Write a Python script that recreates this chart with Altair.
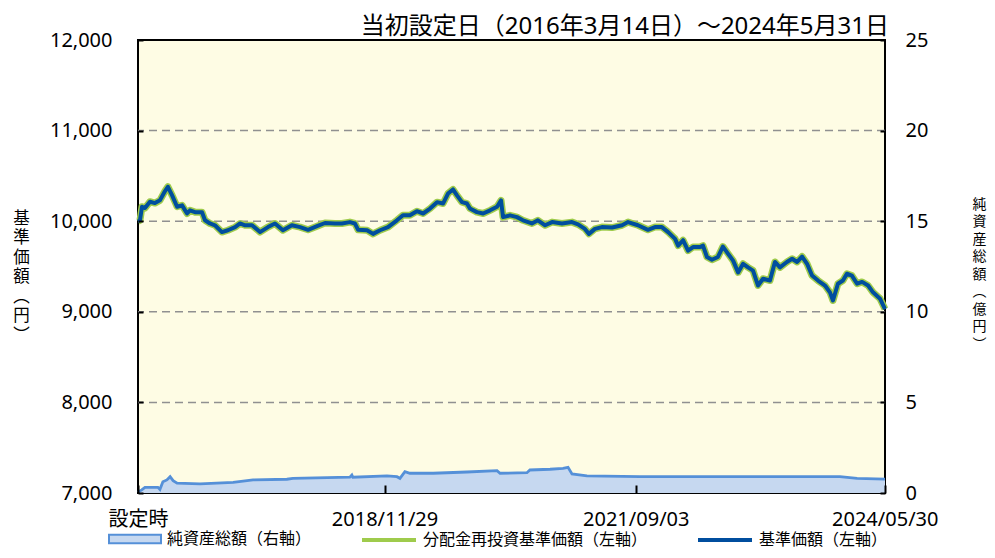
import altair as alt
import pandas as pd

# ---------------- data ----------------
NAV_DATES = [
    "2016-03-14", "2016-03-22", "2016-03-30", "2016-04-11", "2016-05-01", "2016-05-21",
    "2016-06-10", "2016-06-30", "2016-07-12", "2016-07-29", "2016-08-18", "2016-09-07",
    "2016-09-27", "2016-10-09", "2016-10-29", "2016-11-26", "2016-12-08", "2016-12-28",
    "2017-01-17", "2017-02-14", "2017-03-10", "2017-04-08", "2017-04-28", "2017-05-18",
    "2017-06-15", "2017-07-17", "2017-08-18", "2017-09-15", "2017-10-17", "2017-11-22",
    "2017-12-25", "2018-01-26", "2018-03-03", "2018-04-04", "2018-05-14", "2018-06-11",
    "2018-07-13", "2018-08-02", "2018-08-15", "2018-09-20", "2018-10-14", "2018-11-11",
    "2018-12-13", "2019-01-18", "2019-02-11", "2019-03-11", "2019-04-08", "2019-05-03",
    "2019-05-31", "2019-06-28", "2019-07-22", "2019-08-11", "2019-08-31", "2019-09-16",
    "2019-10-06", "2019-10-26", "2019-11-07", "2019-12-05", "2019-12-30", "2020-01-27",
    "2020-02-24", "2020-03-11", "2020-03-19", "2020-04-16", "2020-05-14", "2020-06-07",
    "2020-07-13", "2020-08-06", "2020-09-04", "2020-10-02", "2020-11-11", "2020-12-21",
    "2021-01-14", "2021-02-11", "2021-02-27", "2021-03-23", "2021-04-20", "2021-05-31",
    "2021-07-10", "2021-08-03", "2021-09-12", "2021-10-22", "2021-11-19", "2021-12-17",
    "2022-01-11", "2022-02-08", "2022-02-20", "2022-03-12", "2022-04-01", "2022-04-21",
    "2022-05-19", "2022-05-31", "2022-06-16", "2022-07-06", "2022-07-30", "2022-08-19",
    "2022-09-09", "2022-09-29", "2022-10-19", "2022-11-08", "2022-11-28", "2022-12-18",
    "2023-01-07", "2023-01-27", "2023-02-24", "2023-03-16", "2023-04-05", "2023-05-03",
    "2023-05-24", "2023-06-13", "2023-07-03", "2023-07-23", "2023-08-12", "2023-09-05",
    "2023-10-03", "2023-10-23", "2023-11-04", "2023-11-24", "2023-12-14", "2023-12-30",
    "2024-01-19", "2024-02-09", "2024-02-29", "2024-03-24", "2024-04-13", "2024-05-11",
    "2024-05-31",
]
NAV_VALUES = [
    10000, 10010, 10160, 10145, 10215, 10200,
    10230, 10330, 10380, 10285, 10160, 10175,
    10085, 10120, 10100, 10100, 10010, 9975,
    9955, 9880, 9900, 9935, 9975, 9955,
    9955, 9880, 9935, 9975, 9900, 9955,
    9935, 9905, 9945, 9980, 9975, 9975,
    9990, 9975, 9905, 9900, 9860, 9900,
    9935, 10010, 10065, 10065, 10110, 10085,
    10140, 10210, 10195, 10305, 10350, 10285,
    10210, 10195, 10140, 10100, 10085, 10120,
    10160, 10230, 10045, 10065, 10045, 10010,
    9975, 10010, 9955, 9990, 9975, 9990,
    9965, 9915, 9860, 9915, 9935, 9930,
    9955, 9990, 9955, 9905, 9935, 9935,
    9880, 9805, 9730, 9790, 9675, 9715,
    9715, 9730, 9605, 9575, 9605, 9720,
    9640, 9565, 9435, 9530, 9490, 9455,
    9290, 9365, 9345, 9550, 9490, 9550,
    9585, 9550, 9610, 9530, 9400, 9345,
    9290, 9215, 9125, 9310, 9345, 9420,
    9400, 9310, 9330, 9290, 9215, 9145,
    9030,
]

AUM_DATES = [
    "2016-03-14", "2016-03-29", "2016-04-11", "2016-06-02", "2016-06-10", "2016-06-22",
    "2016-07-08", "2016-07-21", "2016-08-02", "2016-08-18", "2016-11-18", "2017-03-31",
    "2017-06-19", "2017-11-02", "2017-11-26", "2018-07-13", "2018-07-21", "2018-07-25",
    "2018-12-09", "2019-01-18", "2019-01-30", "2019-02-19", "2019-03-11", "2019-06-12",
    "2019-10-26", "2020-02-24", "2020-03-07", "2020-06-23", "2020-07-05", "2020-09-24",
    "2020-11-15", "2020-12-05", "2020-12-21", "2021-02-19", "2021-09-20", "2022-10-27",
    "2023-12-02", "2024-02-09", "2024-05-31",
]
AUM_VALUES = [
    0.05, 0.17, 0.31, 0.31, 0.20, 0.62,
    0.72, 0.90, 0.68, 0.54, 0.50, 0.59,
    0.72, 0.76, 0.81, 0.87, 0.99, 0.87,
    0.94, 0.90, 0.81, 1.18, 1.09, 1.09,
    1.16, 1.23, 1.09, 1.12, 1.27, 1.31,
    1.36, 1.42, 1.05, 0.94, 0.90, 0.90,
    0.90, 0.81, 0.77,
]

GRID_LEVELS = [8000, 9000, 10000, 11000]
LEFT_TICKS = [7000, 8000, 9000, 10000, 11000, 12000]
RIGHT_TICKS = [0, 5, 10, 15, 20, 25]
X_TICK_DATES = [(2016, 3, 14), (2018, 11, 29), (2021, 9, 3), (2024, 5, 30)]
X_DOMAIN = [(2016, 3, 14), (2024, 5, 31)]

TITLE = "当初設定日（2016年3月14日）～2024年5月31日"
LEFT_TITLE = ["基", "準", "価", "額", "︵", "円", "︶"]
RIGHT_TITLE = ["純", "資", "産", "総", "額", "︵", "億", "円", "︶"]
AUM_LABEL = "純資産総額（右軸）"
REINV_LABEL = "分配金再投資基準価額（左軸）"
NAV_LABEL = "基準価額（左軸）"

# ---------------- styling ----------------
NUM_FONT = "Noto Sans, Noto Sans CJK JP"
JP_FONT = "Noto Sans CJK JP"
GREEN = "#9fcb4c"
BLUE = "#004e9e"
AREA_FILL = "#c6d8f0"
AREA_LINE = "#5590d8"
BG = "#fefce4"

reinv_df = pd.DataFrame({"date": pd.to_datetime(NAV_DATES), "nav": NAV_VALUES, "series": REINV_LABEL})
nav_df = pd.DataFrame({"date": pd.to_datetime(NAV_DATES), "nav": NAV_VALUES, "series": NAV_LABEL})
aum_df = pd.DataFrame({"date": pd.to_datetime(AUM_DATES), "aum": AUM_VALUES, "series": AUM_LABEL})
grid_df = pd.DataFrame({"level": GRID_LEVELS})

x_scale = alt.Scale(
    domain=[alt.DateTime(year=y, month=m, date=d) for y, m, d in X_DOMAIN], nice=False
)
x_axis = alt.Axis(
    values=[alt.DateTime(year=y, month=m, date=d) for y, m, d in X_TICK_DATES],
    labelExpr="timeFormat(datum.value, '%Y/%m/%d') === '2016/03/14' ? '設定時' : timeFormat(datum.value, '%Y/%m/%d')",
    title=None, domain=False, grid=False, ticks=True, tickSize=8, tickWidth=2,
    tickColor="black", offset=-8, labelPadding=16, labelFlush=False,
    labelOverlap=False, labelFont=NUM_FONT, labelFontSize=20, labelColor="black",
    labelAngle=0, zindex=2,
)
X = alt.X("date:T", scale=x_scale, axis=x_axis)

left_scale = alt.Scale(domain=[7000, 12000], nice=False, zero=False)
left_axis = alt.Axis(
    orient="left", values=LEFT_TICKS, labelExpr="format(datum.value, ',.0f')",
    grid=False, domain=False, zindex=2,
    tickSize=5, tickWidth=2, tickColor="black", offset=-5, labelPadding=26,
    labelFont=NUM_FONT, labelFontSize=20, labelColor="black",
    title=LEFT_TITLE, titleAngle=0, titleX=-122, titleY=170, titleAlign="center",
    titleBaseline="top", titleLineHeight=19.5, titleFont=JP_FONT, titleFontSize=16.5,
    titleFontWeight="normal", titleColor="black",
)
right_scale = alt.Scale(domain=[0, 25], nice=False)
right_axis = alt.Axis(
    orient="right", values=RIGHT_TICKS, labelExpr="format(datum.value, 'd')",
    grid=False, domain=False, zindex=2,
    tickSize=5, tickWidth=2, tickColor="black", offset=-5, labelPadding=20,
    labelFont=NUM_FONT, labelFontSize=20, labelColor="black",
    title=RIGHT_TITLE, titleAngle=0, titleX=99, titleY=157, titleAlign="center",
    titleBaseline="top", titleLineHeight=17.5, titleFont=JP_FONT, titleFontSize=14,
    titleFontWeight="normal", titleColor="black",
)

area_legend = alt.Legend(
    title=None, orient="none", legendX=-30, legendY=472,
    symbolType="M-1,-0.16L1,-0.16L1,0.16L-1,0.16Z", symbolSize=2704,
    symbolStrokeColor=AREA_LINE, symbolStrokeWidth=2, symbolOpacity=1,
    labelFont=JP_FONT, labelFontSize=16, labelColor="black", labelOffset=5,
    labelLimit=400,
)
line_legend = alt.Legend(
    title=None, orient="none", direction="horizontal", legendX=222, legendY=471,
    symbolType="stroke", symbolSize=2916, symbolStrokeWidth=4,
    labelFont=JP_FONT, labelFontSize=16, labelColor="black", labelOffset=5,
    labelLimit=400, columnPadding=42,
)
stroke_scale = alt.Scale(domain=[REINV_LABEL, NAV_LABEL], range=[GREEN, BLUE])

area = alt.Chart(aum_df).mark_area(opacity=1).encode(
    x=X,
    y=alt.Y("aum:Q", scale=right_scale, axis=right_axis),
    fill=alt.Fill("series:N", scale=alt.Scale(domain=[AUM_LABEL], range=[AREA_FILL]),
                  legend=area_legend),
)
area_line = alt.Chart(aum_df).mark_line(color=AREA_LINE, strokeWidth=2.8).encode(
    x=X, y=alt.Y("aum:Q", scale=right_scale, axis=right_axis)
)

grid = alt.Chart(grid_df).mark_rule(color="#909090", strokeWidth=1.5, strokeDash=[8, 5]).encode(
    y=alt.Y("level:Q", scale=left_scale, axis=left_axis)
)
green = alt.Chart(reinv_df).mark_line(strokeWidth=7, strokeJoin="round").encode(
    x=X, y=alt.Y("nav:Q", scale=left_scale, axis=left_axis),
    stroke=alt.Stroke("series:N", scale=stroke_scale, legend=line_legend),
)
blue = alt.Chart(nav_df).mark_line(strokeWidth=4, strokeJoin="round").encode(
    x=X, y=alt.Y("nav:Q", scale=left_scale, axis=left_axis),
    stroke=alt.Stroke("series:N", scale=stroke_scale, legend=line_legend),
)

right = alt.layer(area, area_line)
left = alt.layer(grid, green, blue)

chart = (
    alt.layer(right, left)
    .resolve_scale(y="independent")
    .properties(
        width=747, height=453,
        background="white",
        padding={"left": 130, "top": 32, "right": 102, "bottom": 57},
        autosize=alt.AutoSizeParams(type="none"),
        title=alt.TitleParams(
            text=TITLE, anchor="end", frame="group", font=NUM_FONT, dx=4,
            fontSize=24, fontWeight="normal", color="black", offset=-9,
        ),
    )
    .configure_view(fill=BG, stroke="black", strokeWidth=2)
)

chart.save("out.html", embed_options={"renderer": "svg", "actions": False})
